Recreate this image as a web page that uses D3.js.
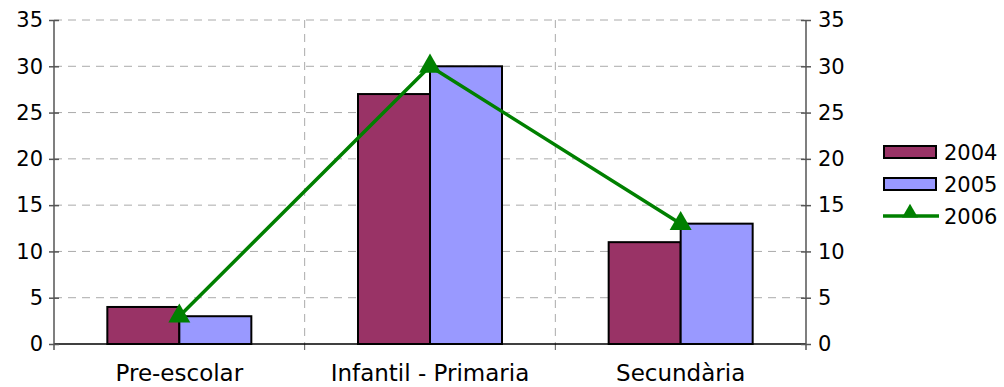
<!DOCTYPE html>
<html><head><meta charset="utf-8">
<script src="https://cdn.jsdelivr.net/npm/d3@7"></script>
<style>body{margin:0;background:#fff}svg{display:block}text{font-family:"DejaVu Sans",Verdana,sans-serif;}</style>
</head><body>
<svg id="c" width="1004" height="387"></svg>
<script>
const categories = ["Pre-escolar", "Infantil - Primaria", "Secundària"];
const s2004 = [4, 27, 11];
const s2005 = [3, 30, 13];
const s2006 = [3, 30, 13];
const yTicks = [0, 5, 10, 15, 20, 25, 30, 35];
const seriesNames = ["2004", "2005", "2006"];
const colors = ["#993366", "#9999FF", "#008000"];

const svg = d3.select("#c");
const L = 54, R = 806, T = 20, B = 344;
const x = d3.scaleBand().domain(categories).range([L, R]);
const y = d3.scaleLinear().domain([0, 35]).range([B, T]);
const inner = d3.scaleBand().domain(["2004", "2005"]).range([0, 144]);
const off = (x.bandwidth() - 144) / 2;

// horizontal grid
svg.append("g").selectAll("line").data(yTicks.filter(d => d > 0)).join("line")
  .attr("x1", L).attr("x2", R).attr("y1", d => y(d)).attr("y2", d => y(d))
  .attr("stroke", "#aaa").attr("stroke-dasharray", "8,6");
// vertical grid
svg.append("g").selectAll("line").data(categories.slice(1)).join("line")
  .attr("x1", d => x(d)).attr("x2", d => x(d)).attr("y1", T).attr("y2", B)
  .attr("stroke", "#aaa").attr("stroke-dasharray", "8,6");
svg.append("g").selectAll("line").data(categories.slice(1)).join("line")
  .attr("x1", d => x(d)).attr("x2", d => x(d)).attr("y1", B).attr("y2", B + 6)
  .attr("stroke", "#555");

// bars
const bars = svg.append("g");
[s2004, s2005].forEach((s, i) => {
  bars.selectAll(null).data(s).join("rect")
    .attr("x", (d, j) => x(categories[j]) + off + inner(seriesNames[i]))
    .attr("width", inner.bandwidth())
    .attr("y", d => y(d)).attr("height", d => B - y(d))
    .attr("fill", colors[i]).attr("stroke", "#000").attr("stroke-width", 2);
});

// baseline
svg.append("line").attr("x1", L).attr("x2", R).attr("y1", B).attr("y2", B).attr("stroke", "#000").attr("stroke-width", 1.5);

// axes
const gl = svg.append("g").attr("transform", `translate(${L},0)`).call(d3.axisLeft(y).tickValues(yTicks).tickSize(0).tickPadding(11));
const gr = svg.append("g").attr("transform", `translate(${R},0)`).call(d3.axisRight(y).tickValues(yTicks).tickSize(0).tickPadding(12));
[gl, gr].forEach(g => {
  g.select(".domain").attr("stroke", "#555").attr("stroke-width", 1.5).attr("d", `M0,${T}V${B + 6}`);
  g.selectAll(".tick").append("line").attr("x1", -5).attr("x2", 5).attr("stroke", "#555").attr("stroke-width", 1.5);
  g.selectAll("text").attr("font-size", 21).attr("fill", "#000").attr("font-family", "DejaVu Sans");
});

// x labels
svg.append("g").selectAll("text").data(categories).join("text")
  .attr("x", d => x(d) + x.bandwidth() / 2).attr("y", 381)
  .attr("text-anchor", "middle").attr("font-size", 23).text(d => d);

// line
const cx = d => x(d) + x.bandwidth() / 2;
svg.append("path").datum(s2006)
  .attr("d", d3.line().x((d, j) => cx(categories[j])).y(d => y(d)))
  .attr("fill", "none").attr("stroke", colors[2]).attr("stroke-width", 3.5);
const tri = d3.symbol().type(d3.symbolTriangle).size(210);
svg.append("g").selectAll("path").data(s2006).join("path")
  .attr("transform", (d, j) => `translate(${cx(categories[j])},${y(d)})`)
  .attr("d", tri).attr("fill", colors[2]);

// legend
const lg = svg.append("g");
[0, 1].forEach(i => {
  lg.append("rect").attr("x", 884).attr("y", 146 + i * 32).attr("width", 52).attr("height", 12)
    .attr("fill", colors[i]).attr("stroke", "#000").attr("stroke-width", 2);
});
lg.append("line").attr("x1", 883).attr("x2", 939).attr("y1", 216).attr("y2", 216).attr("stroke", colors[2]).attr("stroke-width", 3.5);
lg.append("path").attr("transform", "translate(910,213)").attr("d", d3.symbol().type(d3.symbolTriangle).size(110)).attr("fill", colors[2]);
seriesNames.forEach((n, i) => {
  lg.append("text").attr("x", 944).attr("y", 152 + i * 32).attr("dy", "0.36em").attr("font-size", 21).text(n);
});
</script>
</body></html>
